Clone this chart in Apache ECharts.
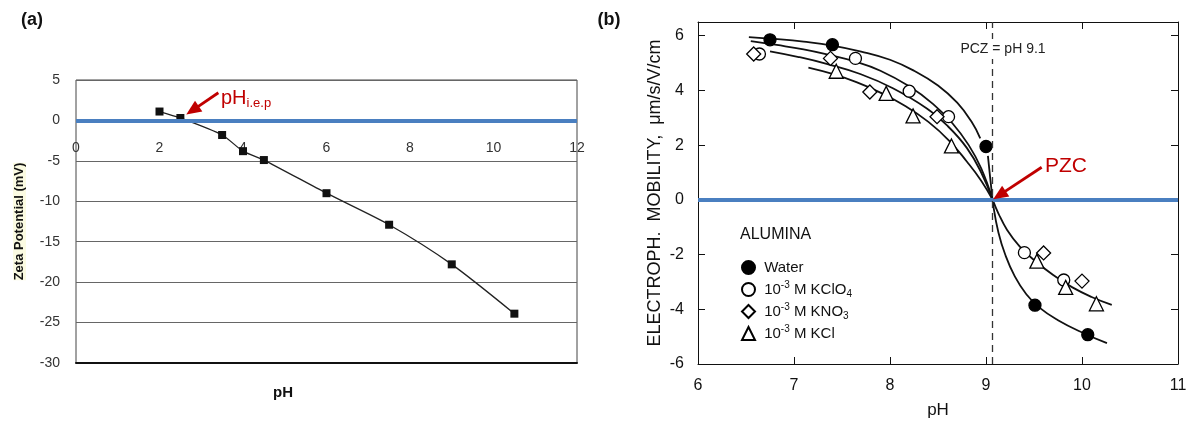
<!DOCTYPE html>
<html><head><meta charset="utf-8">
<script src="https://cdn.jsdelivr.net/npm/echarts@6/dist/echarts.min.js"></script>
<style>html,body{margin:0;padding:0;background:#fff}#c{width:1195px;height:425px}</style>
</head><body><div id="c"></div>
<script>
// ---------- Panel (a): zeta potential vs pH ----------
const phA   = [2, 2.5, 3.5, 4, 4.5, 6, 7.5, 9, 10.5];
const zetaA = [1.1, 0.3, -1.8, -3.8, -4.9, -9.0, -12.9, -17.8, -23.9];
const xTicksA = [0, 2, 4, 6, 8, 10, 12];
const yTicksA = [-30, -25, -20, -15, -10, -5, 0, 5];

// ---------- Panel (b): electrophoretic mobility vs pH ----------
const seriesNamesB = ['Water', '10-3 M KClO4', '10-3 M KNO3', '10-3 M KCl'];
const legendLabelsB = [' Water', ' 10{sup|-3} M KClO{sub|4}', ' 10{sup|-3} M KNO{sub|3}', ' 10{sup|-3} M KCl'];
const waterPH  = [6.75, 7.40, 9.00, 9.51, 10.06];
const waterMob = [5.85, 5.67, 1.95, -3.85, -4.93];
const kclo4PH  = [6.64, 7.64, 8.20, 8.61, 9.40, 9.81];
const kclo4Mob = [5.33, 5.17, 3.97, 3.04, -1.93, -2.93];
const kno3PH   = [6.58, 7.38, 7.79, 8.49, 9.60, 10.00];
const kno3Mob  = [5.33, 5.17, 3.94, 3.04, -1.94, -2.97];
const kclPH    = [7.44, 7.96, 8.24, 8.64, 9.53, 9.83, 10.15];
const kclMob   = [4.70, 3.89, 3.07, 1.97, -2.24, -3.20, -3.80];

// fitted curves
const curveAPH  = [6.53, 6.80, 7.10, 7.40, 7.70, 8.00, 8.25, 8.50, 8.70, 8.85, 8.94];
const curveAMob = [5.95, 5.88, 5.78, 5.64, 5.42, 5.12, 4.72, 4.18, 3.55, 2.85, 2.25];
const curveBPH  = [6.55, 6.82, 7.10, 7.36, 7.64, 7.90, 8.20, 8.45, 8.65, 8.82, 8.95, 9.07];
const curveBMob = [5.80, 5.66, 5.50, 5.30, 5.05, 4.72, 4.15, 3.50, 2.80, 2.00, 1.15, 0];
const curveCPH  = [6.75, 7.05, 7.34, 7.69, 8.03, 8.38, 8.60, 8.80, 8.95, 9.07];
const curveCMob = [5.43, 5.22, 4.97, 4.60, 4.08, 3.35, 2.70, 1.90, 1.00, 0];
const curveDPH  = [7.15, 7.40, 7.65, 7.90, 8.15, 8.40, 8.62, 8.80, 8.95, 9.07];
const curveDMob = [4.83, 4.60, 4.30, 3.92, 3.45, 2.85, 2.15, 1.40, 0.70, 0];
const curveEPH  = [9.07, 9.13, 9.22, 9.35, 9.50, 9.70, 9.90, 10.10, 10.31];
const curveEMob = [0, -0.50, -1.10, -1.70, -2.20, -2.75, -3.20, -3.55, -3.84];
const curveFPH  = [9.02, 9.05, 9.08, 9.13, 9.20, 9.30, 9.42, 9.56, 9.75, 10.00, 10.26];
const curveFMob = [1.61, 0.60, -0.30, -1.20, -2.00, -2.80, -3.45, -3.95, -4.40, -4.85, -5.24];
const xTicksB = [6, 7, 8, 9, 10, 11];
const yTicksB = [-6, -4, -2, 0, 2, 4, 6];
const pzcPH = 9.07;

// annotation arrows (data coordinates: tail -> head)
const arrowA = [[3.41, 3.42], [2.79, 1.24]];
const arrowB = [[9.58, 1.19], [9.14, 0.17]];

const pairs = (xs, ys) => xs.map((x, i) => [x, ys[i]]);
const FONT = "'Liberation Sans', Arial, Helvetica, sans-serif";
const RED = '#c00000';
const BLUE = '#4a7fc0';

// layout of panel (a)
const gridA = {left: 76, right: 618, top: 80, bottom: 62};
const gridAHeight = 425 - gridA.top - gridA.bottom;
const yMinA = yTicksA[0], yMaxA = yTicksA[yTicksA.length - 1];
// x axis of panel (a) crosses the y axis at zero
const zeroOffsetA = -((0 - yMinA) / (yMaxA - yMinA)) * gridAHeight;

const chart = echarts.init(document.getElementById('c'), null, {renderer: 'canvas'});

const curveSeries = (xs, ys) => ({
  type: 'line', xAxisIndex: 2, yAxisIndex: 2, data: pairs(xs, ys),
  symbol: 'none', smooth: 0.45, silent: true,
  lineStyle: {color: '#111', width: 1.8}, z: 2
});
const scatterSeries = (name, xs, ys, symbol, fill, size) => ({
  name, type: 'scatter', xAxisIndex: 2, yAxisIndex: 2, data: pairs(xs, ys),
  symbol, symbolSize: size,
  itemStyle: {color: fill, borderColor: '#000', borderWidth: 1.3, opacity: 1}, z: 4
});
const arrowSeries = (xi, yi, arr) => ({
  type: 'line', xAxisIndex: xi, yAxisIndex: yi, data: [], z: 6,
  markLine: {
    silent: true, animation: false, label: {show: false},
    symbol: ['none', 'triangle'], symbolSize: [13, 15],
    lineStyle: {color: RED, width: 2.8, type: 'solid'},
    data: [[{coord: arr[0]}, {coord: arr[1]}]]
  }
});

const option = {
  animation: false,
  textStyle: {fontFamily: FONT},
  grid: [
    Object.assign({show: true, borderColor: '#444', borderWidth: 1, backgroundColor: 'transparent'}, gridA),
    {left: 698, right: 17, top: 22, bottom: 61}
  ],
  xAxis: [
    {gridIndex: 0, type: 'value', position: 'bottom', offset: zeroOffsetA,
     min: xTicksA[0], max: xTicksA[xTicksA.length - 1], interval: xTicksA[1] - xTicksA[0],
     axisLine: {show: false, onZero: false},
     axisTick: {show: false}, splitLine: {show: false},
     axisLabel: {margin: 21, fontSize: 14, color: '#333', fontFamily: FONT}},
    {gridIndex: 0, type: 'value', position: 'bottom', min: xTicksA[0], max: xTicksA[xTicksA.length - 1],
     axisLine: {show: true, onZero: false, lineStyle: {color: '#111', width: 2}},
     axisTick: {show: false}, axisLabel: {show: false}, splitLine: {show: false}},
    {gridIndex: 1, type: 'value', position: 'bottom', min: xTicksB[0], max: xTicksB[xTicksB.length - 1], interval: xTicksB[1] - xTicksB[0],
     axisLine: {onZero: false, lineStyle: {color: '#111', width: 1}},
     axisTick: {inside: true, length: 7, lineStyle: {color: '#111'}},
     axisLabel: {margin: 14, fontSize: 16, color: '#111', fontFamily: FONT},
     splitLine: {show: false},
     name: 'pH', nameLocation: 'middle', nameGap: 38, nameTextStyle: {fontSize: 17, color: '#111', fontFamily: FONT}},
    {gridIndex: 1, type: 'value', position: 'top', min: xTicksB[0], max: xTicksB[xTicksB.length - 1], interval: xTicksB[1] - xTicksB[0],
     axisLine: {onZero: false, lineStyle: {color: '#111', width: 1}},
     axisTick: {inside: true, length: 7, lineStyle: {color: '#111'}},
     axisLabel: {show: false}, splitLine: {show: false}}
  ],
  yAxis: [
    {gridIndex: 0, type: 'value', min: yMinA, max: yMaxA, interval: yTicksA[1] - yTicksA[0],
     axisLine: {show: false, onZero: false}, axisTick: {show: false},
     axisLabel: {margin: 16, fontSize: 14, color: '#333', fontFamily: FONT},
     splitLine: {show: true, lineStyle: {color: '#666', width: 1}},
     name: 'Zeta Potential (mV)', nameLocation: 'middle', nameGap: 50,
     nameTextStyle: {fontSize: 13, fontWeight: 'bold', color: '#111', fontFamily: FONT, backgroundColor: '#fbfbe2'}},
    {gridIndex: 0, type: 'value', position: 'right', min: yMinA, max: yMaxA,
     axisLine: {show: false, onZero: false}, axisTick: {show: false}, axisLabel: {show: false}, splitLine: {show: false}},
    {gridIndex: 1, type: 'value', position: 'left', min: yTicksB[0], max: 6.5, interval: yTicksB[1] - yTicksB[0],
     axisLine: {onZero: false, lineStyle: {color: '#111', width: 1}},
     axisTick: {inside: true, length: 7, lineStyle: {color: '#111'}},
     axisLabel: {margin: 14, fontSize: 16, color: '#111', fontFamily: FONT,
                 formatter: v => (yTicksB.indexOf(v) >= 0 ? String(v) : '')},
     splitLine: {show: false},
     name: 'ELECTROPH.  MOBILITY,  \u03bcm/s/V/cm', nameLocation: 'middle', nameGap: 34,
     nameTextStyle: {fontSize: 18, color: '#111', fontFamily: FONT}},
    {gridIndex: 1, type: 'value', position: 'right', min: yTicksB[0], max: 6.5, interval: yTicksB[1] - yTicksB[0],
     axisLine: {onZero: false, lineStyle: {color: '#111', width: 1}},
     axisTick: {inside: true, length: 7, lineStyle: {color: '#111'}},
     axisLabel: {show: false}, splitLine: {show: false}}
  ],
  legend: {
    left: 736, top: 253, orient: 'vertical', itemWidth: 13, itemHeight: 13, itemGap: 3,
    selectedMode: false,
    data: seriesNamesB,
    formatter: name => legendLabelsB[seriesNamesB.indexOf(name)],
    textStyle: {fontSize: 15, color: '#111', fontFamily: FONT, lineHeight: 19,
      rich: {
        sup: {fontSize: 10, lineHeight: 10, verticalAlign: 'top', fontFamily: FONT, color: '#111'},
        sub: {fontSize: 10, lineHeight: 10, verticalAlign: 'bottom', fontFamily: FONT, color: '#111'}
      }}
  },
  series: [
    // panel (a)
    {type: 'line', xAxisIndex: 0, yAxisIndex: 0, data: [], z: 2,
     markLine: {silent: true, symbol: 'none', label: {show: false},
       lineStyle: {color: BLUE, width: 4, type: 'solid'}, data: [{yAxis: 0}]}},
    {type: 'line', xAxisIndex: 0, yAxisIndex: 0, data: pairs(phA, zetaA), smooth: 0.25,
     symbol: 'rect', symbolSize: 8, itemStyle: {color: '#111'}, lineStyle: {color: '#222', width: 1.3}, z: 4},
    arrowSeries(0, 0, arrowA),
    // panel (b) curves
    curveSeries(curveAPH, curveAMob),
    curveSeries(curveBPH, curveBMob),
    curveSeries(curveCPH, curveCMob),
    curveSeries(curveDPH, curveDMob),
    curveSeries(curveEPH, curveEMob),
    curveSeries(curveFPH, curveFMob),
    // blue zero line and dashed PZC line
    {type: 'line', xAxisIndex: 2, yAxisIndex: 2, data: [], z: 3,
     markLine: {silent: true, symbol: 'none', label: {show: false},
       data: [
         {yAxis: 0, lineStyle: {color: BLUE, width: 4, type: 'solid'}},
         {xAxis: pzcPH, lineStyle: {color: '#333', width: 1.3, type: [7, 5]}}
       ]}},
    scatterSeries(seriesNamesB[0], waterPH, waterMob, 'circle', '#000', 12),
    scatterSeries(seriesNamesB[1], kclo4PH, kclo4Mob, 'circle', '#fff', 12),
    scatterSeries(seriesNamesB[2], kno3PH, kno3Mob, 'diamond', '#fff', 14),
    scatterSeries(seriesNamesB[3], kclPH, kclMob, 'triangle', '#fff', 14),
    arrowSeries(2, 2, arrowB)
  ],
  graphic: [
    {type: 'text', x: 32, y: 20, z: 10, style: {text: '(a)', font: "bold 18px " + FONT, fill: '#111', textAlign: 'center', textVerticalAlign: 'middle'}},
    {type: 'text', x: 609, y: 20, z: 10, style: {text: '(b)', font: "bold 18px " + FONT, fill: '#111', textAlign: 'center', textVerticalAlign: 'middle'}},
    {type: 'text', x: 283, y: 393, z: 10, style: {text: 'pH', font: "bold 15px " + FONT, fill: '#111', textAlign: 'center', textVerticalAlign: 'middle'}},
    {type: 'text', x: 221, y: 98, z: 10, style: {text: '{a|pH}{b|i.e.p}', textAlign: 'left', textVerticalAlign: 'middle',
      rich: {a: {fontSize: 20, lineHeight: 24, fontFamily: FONT, fill: RED, color: RED},
             b: {fontSize: 13, lineHeight: 18, verticalAlign: 'bottom', fontFamily: FONT, fill: RED, color: RED}}}},
    {type: 'text', x: 1045, y: 166, z: 10, style: {text: 'PZC', font: "21px " + FONT, fill: RED, textAlign: 'left', textVerticalAlign: 'middle'}},
    {type: 'text', x: 1003, y: 49, z: 10, style: {text: 'PCZ = pH 9.1', font: "14px " + FONT, fill: '#222', textAlign: 'center', textVerticalAlign: 'middle', backgroundColor: '#fff', padding: [3, 2]}},
    {type: 'text', x: 740, y: 235, z: 10, style: {text: 'ALUMINA', font: "16px " + FONT, fill: '#111', textAlign: 'left', textVerticalAlign: 'middle'}}
  ]
};
chart.setOption(option);
</script>
</body></html>
